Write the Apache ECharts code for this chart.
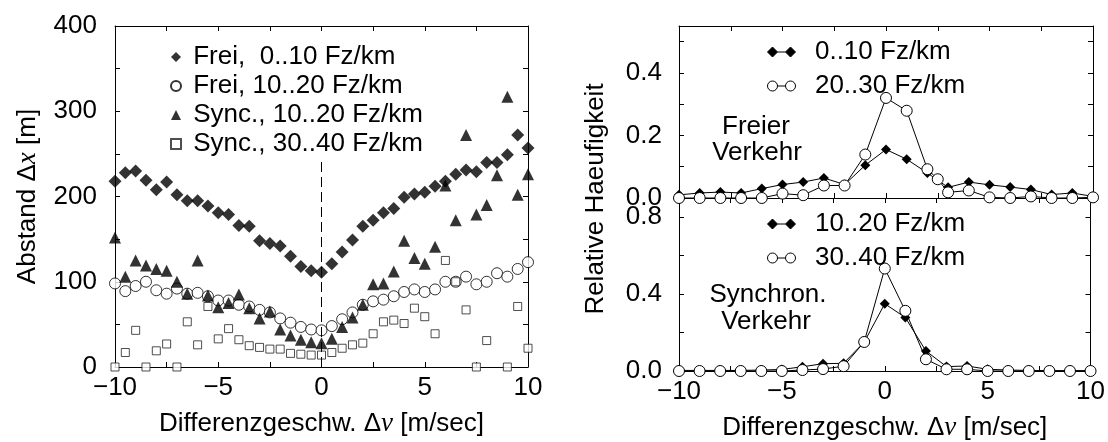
<!DOCTYPE html>
<html>
<head>
<meta charset="utf-8">
<script src="https://cdn.jsdelivr.net/npm/echarts@6/dist/echarts.min.js"></script>
<style>
html,body{margin:0;padding:0;background:#fff;}
#chart{width:1108px;height:442px;}
</style>
</head>
<body>
<div id="chart"></div>
<script>
// ---------- data (left panel) ----------
const X_LEFT = [-10,-9.5,-9,-8.5,-8,-7.5,-7,-6.5,-6,-5.5,-5,-4.5,-4,-3.5,-3,-2.5,-2,-1.5,-1,-0.5,0,0.5,1,1.5,2,2.5,3,3.5,4,4.5,5,5.5,6,6.5,7,7.5,8,8.5,9,9.5,10];
const FREI_0_10 = [218,228,230,219,208,217,202,195,195,189,181,179,166,165,148,145,142,130,118,113,111,121,135,149,165,172,181,186,199,203,205,212,218,226,231,229,240,240,249,272,257];
const FREI_10_20 = [98,89,95,100,90,86,92,86,87,83,78,78,73,71,67,64,57,52,47,44,43,48,56,64,73,77,79,83,88,91,88,91,100,100,106,97,100,110,106,115,123];
const SYNC_10_20 = [152,106,125,119,115,113,100,86,125,84,70,75,85,69,57,65,44,37,32,29,28,33,47,58,73,97,98,112,148,128,121,141,213,172,272,179,190,225,317,202,226];
const SYNC_30_40 = [0,17,43,0,19,27,0,53,26,71,33,45,32,25,23,21,21,16,15,14,14,17,22,26,28,39,53,55,51,69,59,39,125,100,67,0,31,null,0,71,22];
const LEFT_NAMES = ['Frei,  0..10 Fz/km','Frei, 10..20 Fz/km','Sync., 10..20 Fz/km','Sync., 30..40 Fz/km'];

// ---------- data (right panels) ----------
const X_INT = [-10,-9,-8,-7,-6,-5,-4,-3,-2,-1,0,1,2,3,4,5,6,7,8,9,10];
const FREQ_FREI_0_10 = [0.010,0.016,0.019,0.016,0.030,0.043,0.051,0.064,0.043,0.105,0.155,0.124,0.080,0.034,0.051,0.042,0.035,0.027,0.011,0.016,0.005];
const X_FREI_20_30 = [-10,-9,-8,-7,-6,-5,-4,-3,-2,-1,0,1,2,2.5,3,4,5,6,7,8,9,10];
const FREQ_FREI_20_30 = [0,0,0,0,0,0.014,0.009,0.040,0.040,0.139,0.320,0.279,0.092,0.060,0.018,0.024,0.002,0,0.005,0,0,0.002];
const FREQ_SYNC_10_20 = [0.003,0.003,0.003,0.003,0.005,0.008,0.022,0.038,0.040,0.150,0.350,0.278,0.104,0.023,0.026,0.009,0.005,0.003,0.002,0.002,0.002];
const FREQ_SYNC_30_40 = [0,0,0,0,0,0,0.005,0.010,0.025,0.151,0.533,0.313,0.061,0.009,0.009,0,0,0,0,0,0];
const RIGHT_NAMES = ['0..10 Fz/km','20..30 Fz/km','10..20 Fz/km','30..40 Fz/km'];

const X_TICKS = [-10,-5,0,5,10];

function pairs(xs, ys){ const out=[]; xs.forEach((x,i)=>{ if(ys[i]!==null) out.push([x,ys[i]]); }); return out; }

const FONT = 'Liberation Sans, Arial, sans-serif';
const FS = 26;
const black = '#000';

function xFmt(v){ return X_TICKS.indexOf(v) >= 0 ? String(v).replace('-', '\u2212') : ''; }

const axisLine = {show:true, onZero:false, lineStyle:{color:black, width:1}};
const tick = {show:true, inside:true, length:5, lineStyle:{color:black, width:1}};

function xAxis(grid, pos, labels, name){
  const a = {type:'value', gridIndex:grid, position:pos, min:-10, max:10, interval:2.5,
    axisLine, axisTick:tick, splitLine:{show:false},
    axisLabel:{show:labels, formatter:xFmt, color:black, fontSize:FS, fontFamily:FONT, margin:8}};
  if (name){
    a.name = '{a|Differenzgeschw. \u0394}{i|v}{a| [m/sec]}';
    a.nameLocation = 'middle';
    a.nameGap = 43;
    a.nameTextStyle = {rich:{a:{fontSize:FS, fontFamily:FONT, color:black}, i:{fontSize:FS+1, fontFamily:'Liberation Serif', fontStyle:'italic', color:black}}};
  }
  return a;
}
function yAxis(grid, pos, min, max, interval, fmt, margin){
  return {type:'value', gridIndex:grid, position:pos, min, max, interval,
    axisLine, axisTick:tick, splitLine:{show:false},
    axisLabel:{show:!!fmt, formatter:fmt, color:black, fontSize:FS, fontFamily:FONT, margin:margin||14}};
}

const yLeft = yAxis(0,'left',0,400,50, v => (v % 100 === 0 ? String(v) : ''), 18);
yLeft.name = '{a|Abstand \u0394}{i|x}{a| [m]}';
yLeft.nameLocation = 'middle';
yLeft.nameGap = 74;
yLeft.nameRotate = 90;
yLeft.nameTextStyle = {rich:{a:{fontSize:FS, fontFamily:FONT, color:black}, i:{fontSize:FS+1, fontFamily:'Liberation Serif', fontStyle:'italic', color:black}}};

const fmtTop = v => { const k = Math.round(v*10); return (k % 2 === 0 && k <= 4) ? v.toFixed(1) : ''; };
const fmtBot = v => { const k = Math.round(v*10); return (k % 4 === 0 && k <= 8) ? v.toFixed(1) : ''; };

const diamondPair = 'path://M0,5 L5,0 L10,5 L5,10 Z M18,5 L23,0 L28,5 L23,10 Z M10,5 L18,5';
const circlePair = 'path://M0,5 A5,5 0 1,1 10,5 A5,5 0 1,1 0,5 Z M18,5 A5,5 0 1,1 28,5 A5,5 0 1,1 18,5 Z M10,5 L18,5';

const legendText = {fontSize:FS, fontFamily:FONT, color:black, lineHeight:FS};

const option = {
  animation:false,
  backgroundColor:'#fff',
  grid:[
    {left:115, top:26, width:413, height:346},
    {left:679, top:26, width:414, height:172},
    {left:679, top:198, width:414, height:174}
  ],
  xAxis:[
    xAxis(0,'bottom',true,true),
    xAxis(0,'top',false,false),
    xAxis(1,'bottom',false,false),
    xAxis(1,'top',false,false),
    xAxis(2,'bottom',true,true),
    xAxis(2,'top',false,false)
  ],
  yAxis:[
    yLeft,
    yAxis(0,'right',0,400,50,null),
    yAxis(1,'left',0,0.55,0.1,fmtTop,17),
    yAxis(1,'right',0,0.55,0.1,null),
    yAxis(2,'left',0,0.9,0.2,fmtBot,17),
    yAxis(2,'right',0,0.9,0.2,null)
  ],
  legend:[
    {left:165, top:39, orient:'vertical', itemGap:3, itemWidth:10, itemHeight:10, selectedMode:false,
     formatter: n => ' ' + n, textStyle:legendText, data:LEFT_NAMES},
    {left:762, top:34, orient:'vertical', itemGap:8, itemWidth:28, itemHeight:10, selectedMode:false,
     formatter: n => '  ' + n, textStyle:legendText,
     data:[{name:RIGHT_NAMES[0], icon:diamondPair, itemStyle:{color:black, borderColor:black, borderWidth:1}},
           {name:RIGHT_NAMES[1], icon:circlePair, itemStyle:{color:'#fff', borderColor:black, borderWidth:1}}]},
    {left:762, top:206, orient:'vertical', itemGap:8, itemWidth:28, itemHeight:10, selectedMode:false,
     formatter: n => '  ' + n, textStyle:legendText,
     data:[{name:RIGHT_NAMES[2], icon:diamondPair, itemStyle:{color:black, borderColor:black, borderWidth:1}},
           {name:RIGHT_NAMES[3], icon:circlePair, itemStyle:{color:'#fff', borderColor:black, borderWidth:1}}]}
  ],
  graphic:[
    {type:'text', x:596, y:199, rotation:Math.PI/2, style:{text:'Relative Haeufigkeit', font:FS+'px '+FONT, fill:black, textAlign:'center', textVerticalAlign:'middle'}},
    {type:'text', x:756, y:127, style:{text:'Freier', font:FS+'px '+FONT, fill:black, textAlign:'center', textVerticalAlign:'middle'}},
    {type:'text', x:757, y:153, style:{text:'Verkehr', font:FS+'px '+FONT, fill:black, textAlign:'center', textVerticalAlign:'middle'}},
    {type:'text', x:768, y:295, style:{text:'Synchron.', font:FS+'px '+FONT, fill:black, textAlign:'center', textVerticalAlign:'middle'}},
    {type:'text', x:766, y:322, style:{text:'Verkehr', font:FS+'px '+FONT, fill:black, textAlign:'center', textVerticalAlign:'middle'}}
  ],
  series:[
    {name:LEFT_NAMES[0], type:'scatter', xAxisIndex:0, yAxisIndex:0, symbol:'diamond', symbolSize:13, symbolKeepAspect:true,
     itemStyle:{color:black}, data:pairs(X_LEFT, FREI_0_10),
     markLine:{silent:true, symbol:['none','none'], label:{show:false},
       lineStyle:{type:[10,5], color:black, width:1},
       data:[[{coord:[0,0]},{coord:[0,242]}]]}},
    {name:LEFT_NAMES[1], type:'scatter', xAxisIndex:0, yAxisIndex:0, symbol:'circle', symbolSize:11,
     itemStyle:{color:'#fff', borderColor:black, borderWidth:1}, data:pairs(X_LEFT, FREI_10_20)},
    {name:LEFT_NAMES[2], type:'scatter', xAxisIndex:0, yAxisIndex:0, symbol:'triangle', symbolSize:12,
     itemStyle:{color:black}, data:pairs(X_LEFT, SYNC_10_20)},
    {name:LEFT_NAMES[3], type:'scatter', xAxisIndex:0, yAxisIndex:0, symbol:'rect', symbolSize:8,
     itemStyle:{color:'#fff', borderColor:'#222', borderWidth:1}, data:pairs(X_LEFT, SYNC_30_40)},

    {name:RIGHT_NAMES[0], type:'line', xAxisIndex:2, yAxisIndex:2, symbol:'diamond', symbolSize:10, showAllSymbol:true,
     lineStyle:{color:black, width:1}, itemStyle:{color:black, borderColor:black, borderWidth:0}, data:pairs(X_INT, FREQ_FREI_0_10)},
    {name:RIGHT_NAMES[1], type:'line', xAxisIndex:2, yAxisIndex:2, symbol:'circle', symbolSize:11, showAllSymbol:true,
     lineStyle:{color:black, width:1}, itemStyle:{color:'#fff', borderColor:black, borderWidth:1}, data:pairs(X_FREI_20_30, FREQ_FREI_20_30)},
    {name:RIGHT_NAMES[2], type:'line', xAxisIndex:4, yAxisIndex:4, symbol:'diamond', symbolSize:10, showAllSymbol:true,
     lineStyle:{color:black, width:1}, itemStyle:{color:black, borderColor:black, borderWidth:0}, data:pairs(X_INT, FREQ_SYNC_10_20)},
    {name:RIGHT_NAMES[3], type:'line', xAxisIndex:4, yAxisIndex:4, symbol:'circle', symbolSize:11, showAllSymbol:true,
     lineStyle:{color:black, width:1}, itemStyle:{color:'#fff', borderColor:black, borderWidth:1}, data:pairs(X_INT, FREQ_SYNC_30_40)}
  ]
};

const chart = echarts.init(document.getElementById('chart'), null, {renderer:'canvas'});
chart.setOption(option);
</script>
</body>
</html>
